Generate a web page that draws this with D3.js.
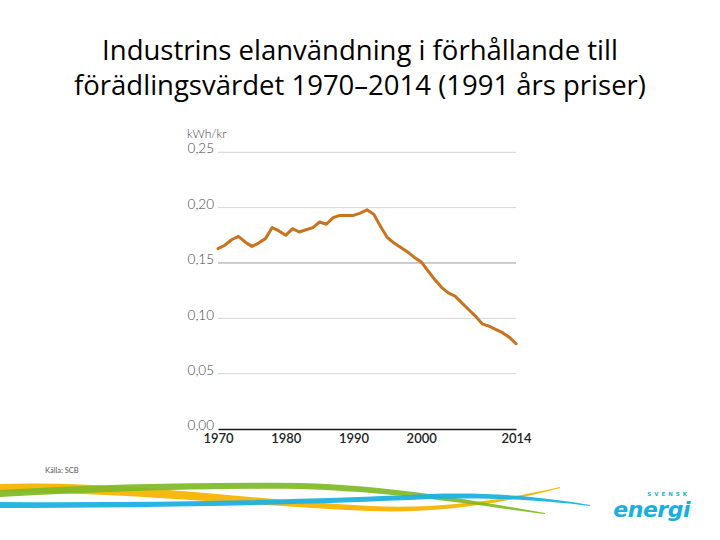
<!DOCTYPE html>
<html>
<head>
<meta charset="utf-8">
<script src="https://cdn.jsdelivr.net/npm/d3@7"></script>
<style>
  body { margin: 0; background: #fff; }
  svg { display: block; }
</style>
</head>
<body>
<div id="chart"></div>
<script>
const YEARS = [
  1970, 1971, 1972, 1973, 1974, 1975, 1976, 1977, 1978, 1979,
  1980, 1981, 1982, 1983, 1984, 1985, 1986, 1987, 1988, 1989,
  1990, 1991, 1992, 1993, 1994, 1995, 1996, 1997, 1998, 1999,
  2000, 2001, 2002, 2003, 2004, 2005, 2006, 2007, 2008, 2009,
  2010, 2011, 2012, 2013, 2014
];

const KWH_PER_KR = [
  0.163, 0.166, 0.171, 0.174, 0.169, 0.165, 0.168, 0.172, 0.182, 0.179,
  0.175, 0.181, 0.178, 0.180, 0.182, 0.187, 0.185, 0.191, 0.193, 0.193,
  0.193, 0.195, 0.198, 0.194, 0.183, 0.173, 0.168, 0.164, 0.160, 0.155,
  0.151, 0.143, 0.135, 0.128, 0.123, 0.120, 0.114, 0.108, 0.102, 0.095,
  0.093, 0.090, 0.087, 0.083, 0.077
];

const Y_TICKS = [0, 0.05, 0.10, 0.15, 0.20, 0.25];
const X_TICKS = [1970, 1980, 1990, 2000, 2014];

const TITLE_LINES = [
  "Industrins elanvändning i förhållande till",
  "förädlingsvärdet 1970–2014 (1991 års priser)"
];

const width = 720;
const height = 540;

const svg = d3.select("#chart").append("svg")
  .attr("width", width)
  .attr("height", height);

// title
svg.append("g")
  .selectAll("text")
  .data(TITLE_LINES)
  .join("text")
  .attr("x", 360)
  .attr("y", (d, i) => 60 + i * 35)
  .attr("text-anchor", "middle")
  .attr("font-family", "Open Sans, sans-serif")
  .attr("font-size", 27.5)
  .attr("fill", "#000")
  .text((d) => d);

const x = d3.scaleLinear().domain([1970, 2014]).range([218, 516]);
const y = d3.scaleLinear().domain([0, 0.25]).range([429, 152.3]);

const fmt = (v) => d3.format(".2f")(v).replace(".", ",");

// gridlines
svg.append("g")
  .selectAll("line")
  .data(Y_TICKS.filter((v) => v > 0))
  .join("line")
  .attr("x1", 218)
  .attr("x2", 516)
  .attr("y1", (d) => y(d))
  .attr("y2", (d) => y(d))
  .attr("stroke", (d) => (Math.abs(d - 0.15) < 1e-9 ? "#9a9a9a" : "#d4d4d4"))
  .attr("stroke-width", 1);

// y labels
const yAxis = svg.append("g")
  .attr("transform", "translate(214,0)")
  .call(d3.axisLeft(y).tickValues(Y_TICKS).tickSize(0).tickPadding(0).tickFormat(fmt));
yAxis.select(".domain").remove();
yAxis.selectAll("text")
  .attr("font-family", "Lato, sans-serif")
  .attr("font-weight", 300)
  .attr("font-size", 13.5)
  .attr("fill", "#444")
  .attr("dy", "0.05em");

svg.append("text")
  .attr("x", 187)
  .attr("y", 138)
  .attr("font-family", "Lato, sans-serif")
  .attr("font-weight", 300)
  .attr("font-size", 12)
  .attr("fill", "#444")
  .text("kWh/kr");

// x axis
const xAxis = svg.append("g")
  .attr("transform", `translate(0,${y(0)})`)
  .call(d3.axisBottom(x).tickValues(X_TICKS).tickSize(0).tickPadding(5).tickFormat(d3.format("d")));
xAxis.select(".domain").attr("stroke", "#1a1a1a").attr("stroke-width", 1.6);
xAxis.selectAll("text")
  .attr("font-family", "Lato, sans-serif")
  .attr("font-weight", 600)
  .attr("font-size", 13)
  .attr("fill", "#222");

// series line
const line = d3.line()
  .x((d, i) => x(YEARS[i]))
  .y((d) => y(d));

svg.append("path")
  .datum(KWH_PER_KR)
  .attr("d", line)
  .attr("fill", "none")
  .attr("stroke", "#c9731f")
  .attr("stroke-width", 3)
  .attr("stroke-linejoin", "round")
  .attr("stroke-linecap", "round");

svg.append("text")
  .attr("x", 45)
  .attr("y", 473)
  .attr("font-family", "Lato, sans-serif")
  .attr("font-size", 7.5)
  .attr("fill", "#555")
  .text("Källa: SCB");

// decorative swooshes at the bottom
const deco = svg.append("g");
deco.append("path")
  .attr("d", "M0,484 C120,480 250,500 370,506 C450,510 520,496 560,487 L560,488 C520,499 450,514 370,511 C250,506 120,492 0,492 Z")
  .attr("fill", "#f7b90f");
deco.append("path")
  .attr("d", "M0,490 C100,484 200,482 300,483 C400,486 480,502 545,513 L545,514 C480,506 400,492 300,489 C200,488 100,492 0,497 Z")
  .attr("fill", "#7fba25")
  .attr("opacity", 0.92);
deco.append("path")
  .attr("d", "M0,502 C150,503 300,500 430,494 C500,492 550,498 590,505 L590,506 C550,501 500,497 430,499 C300,505 150,508 0,508 Z")
  .attr("fill", "#1eb1e0")
  .attr("opacity", 0.95);

// logo
svg.append("text")
  .attr("x", 690)
  .attr("y", 496)
  .attr("text-anchor", "end")
  .attr("font-family", "DejaVu Sans, sans-serif")
  .attr("font-weight", "bold")
  .attr("font-size", 5.5)
  .attr("letter-spacing", 3)
  .attr("fill", "#1aaee0")
  .text("SVENSK");
svg.append("text")
  .attr("x", 690)
  .attr("y", 517)
  .attr("text-anchor", "end")
  .attr("font-family", "DejaVu Sans, sans-serif")
  .attr("font-weight", "bold")
  .attr("font-style", "italic")
  .attr("font-size", 22)
  .attr("letter-spacing", -0.5)
  .attr("fill", "#1aaee0")
  .text("energi");
</script>
</body>
</html>
